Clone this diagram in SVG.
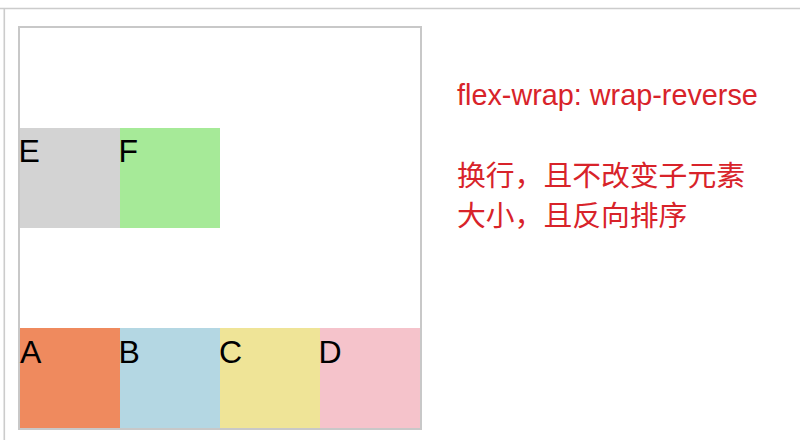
<svg xmlns="http://www.w3.org/2000/svg" width="800" height="440" viewBox="0 0 800 440">
  <style>
    .frame { fill: none; stroke: #c8c8c8; stroke-width: 2; }
    .rule { stroke: #cccccc; stroke-width: 1.6; }
    .lbl { font-family: "Liberation Sans", Arial, Helvetica, sans-serif; font-size: 32px; fill: #000; }
    .note { font-family: "Liberation Sans", "Noto Sans CJK SC", sans-serif; font-size: 28.8px; fill: #d8232a; }
  </style>
  <rect width="800" height="440" fill="#ffffff"/>
  <line class="rule" x1="0" y1="8.5" x2="800" y2="8.5"/>
  <line class="rule" x1="4.3" y1="9" x2="4.3" y2="440"/>
  <rect id="container" class="frame" x="19" y="27" width="402" height="402"/>
  <g id="E"><rect x="20" y="128" width="100" height="100" fill="#d3d3d3"/><text class="lbl" x="18.5" y="162">E</text></g>
  <g id="F"><rect x="120" y="128" width="100" height="100" fill="#a6ea98"/><text class="lbl" x="118.5" y="162">F</text></g>
  <g id="A"><rect x="20" y="328" width="100" height="100" fill="#ef8a5e"/><text class="lbl" x="20" y="362.5">A</text></g>
  <g id="B"><rect x="120" y="328" width="100" height="100" fill="#b4d7e3"/><text class="lbl" x="118.5" y="362.5">B</text></g>
  <g id="C"><rect x="220" y="328" width="100" height="100" fill="#efe497"/><text class="lbl" x="219" y="362.5">C</text></g>
  <g id="D"><rect x="320" y="328" width="100" height="100" fill="#f5c3cb"/><text class="lbl" x="318.5" y="362.5">D</text></g>
  <g id="connectors"></g>
  <g id="notes">
    <text class="note" x="457" y="105">flex-wrap: wrap-reverse</text>
    <text class="note" x="457" y="186">换行，且不改变子元素</text>
    <text class="note" x="457" y="226">大小，且反向排序</text>
  </g>
</svg>
